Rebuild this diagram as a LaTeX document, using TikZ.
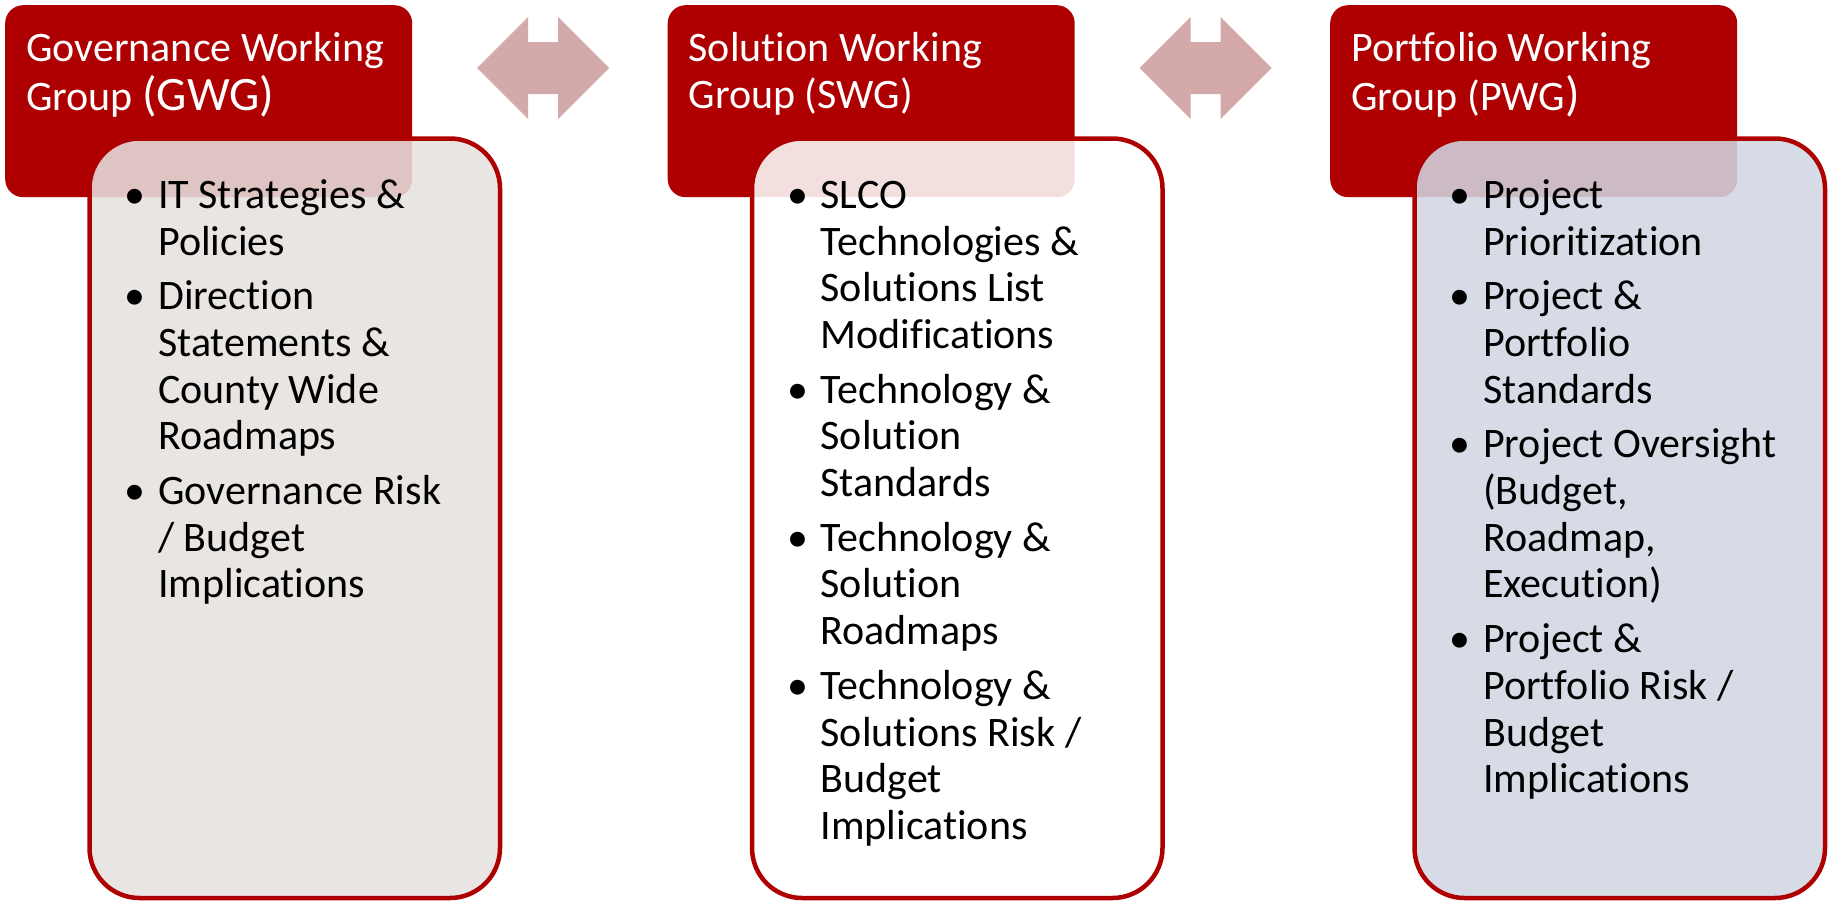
\documentclass[tikz,border=0pt]{standalone}
\usepackage{fontspec}
\setmainfont{Carlito}[Ligatures={NoCommon}]
\definecolor{hdr}{RGB}{174,0,0}
\definecolor{arrc}{RGB}{212,169,169}
\definecolor{fillA}{RGB}{229,225,222}
\definecolor{fillB}{RGB}{255,255,255}
\definecolor{fillC}{RGB}{209,214,225}
\tikzset{
  hbox/.style={fill=hdr, draw=none, rounded corners=18pt, anchor=north west, minimum width=407pt, minimum height=192pt, inner sep=0pt},
  cbox/.style={draw=hdr, line width=4.5pt, fill opacity=0.875, rounded corners=50pt, anchor=north west, minimum width=410.5pt, minimum height=759.5pt, inner sep=0pt},
  htext/.style={anchor=north west, inner sep=0pt, text=white, font=\fontsize{42}{46.7}\selectfont},
  ctext/.style={anchor=north west, inner sep=0pt, text=black, font=\fontsize{42}{46.7}\selectfont},
  dblarrow/.style={fill=arrc, draw=none}
}
\newcommand{\bl}{\textbullet}
\newcommand{\dblshape}[1]{\fill[dblarrow] (#1) ++(-66,0) -- ++(51,-51) -- ++(0,25) -- ++(30,0) -- ++(0,-25) -- ++(51,51) -- ++(-51,51) -- ++(0,-25) -- ++(-30,0) -- ++(0,25) -- cycle;}
\begin{document}
\begin{tikzpicture}[x=1pt,y=-1pt]
\useasboundingbox (0,0) rectangle (1831,900);
% headers
\node[hbox] (h1) at (5,5) {};
\node[hbox] (h2) at (667.5,5) {};
\node[hbox] (h3) at (1330,5) {};
% content boxes
\node[cbox, fill=fillA] (c1) at (87.25,136.25) {};
\node[cbox, fill=fillB] (c2) at (749.75,136.25) {};
\node[cbox, fill=fillC] (c3) at (1412.25,136.25) {};
% arrows
\coordinate (a1) at (543,68);
\coordinate (a2) at (1205.5,68);
\dblshape{a1}
\dblshape{a2}
% header texts
\node[htext] (t1) at (26,28.8) {\begin{tabular}{@{}l@{}}Governance Working\\Group {\fontsize{48}{46.7}\selectfont(GWG)}\end{tabular}};
\node[htext] (t2) at (688.5,28.8) {\begin{tabular}{@{}l@{}}Solution Working\\Group (SWG)\end{tabular}};
\node[htext] (t3) at (1351,28.8) {\begin{tabular}{@{}l@{}}Portfolio Working\\Group (PWG{\fontsize{48}{46.7}\selectfont)}\end{tabular}};
% content texts
\node[ctext] (l1) at (124.5,175.5) {\begin{tabular}{@{}p{33.5pt}@{}l@{}}
\bl & IT Strategies \&\\
 & Policies\\[8pt]
\bl & Direction\\
 & Statements \&\\
 & County Wide\\
 & Roadmaps\\[8pt]
\bl & Governance Risk\\
 & / Budget\\
 & Implications
\end{tabular}};
\node[ctext] (l2) at (787,175.5) {\begin{tabular}{@{}p{33.5pt}@{}l@{}}
\bl & SLCO\\
 & Technologies \&\\
 & Solutions List\\
 & Modifications\\[8pt]
\bl & Technology \&\\
 & Solution\\
 & Standards\\[8pt]
\bl & Technology \&\\
 & Solution\\
 & Roadmaps\\[8pt]
\bl & Technology \&\\
 & Solutions Risk /\\
 & Budget\\
 & Implications
\end{tabular}};
\node[ctext] (l3) at (1449.5,175.5) {\begin{tabular}{@{}p{33.5pt}@{}l@{}}
\bl & Project\\
 & Prioritization\\[8pt]
\bl & Project \&\\
 & Portfolio\\
 & Standards\\[8pt]
\bl & Project Oversight\\
 & (Budget,\\
 & Roadmap,\\
 & Execution)\\[8pt]
\bl & Project \&\\
 & Portfolio Risk /\\
 & Budget\\
 & Implications
\end{tabular}};
\end{tikzpicture}
\end{document}
